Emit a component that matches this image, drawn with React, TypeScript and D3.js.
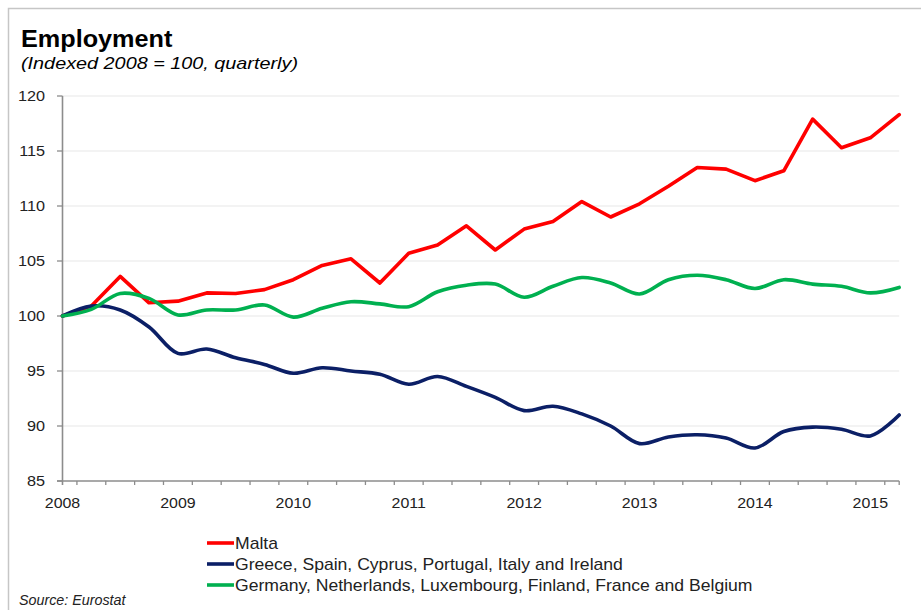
import React from 'react';
import * as d3 from 'd3';

// quarterly values, 2008Q1 .. 2015Q2
const years = ['2008', '2009', '2010', '2011', '2012', '2013', '2014', '2015'];
const yTicks = [85, 90, 95, 100, 105, 110, 115, 120];

const malta = [100, 100.9, 103.6, 101.2, 101.35, 102.1, 102.05, 102.4, 103.3, 104.6,
  105.2, 103.0, 105.7, 106.45, 108.2, 106.0, 107.9, 108.6, 110.4, 109.0,
  110.2, 111.8, 113.5, 113.35, 112.3, 113.2, 117.9, 115.3, 116.2, 118.3];
const periphery = [100, 100.9, 100.55, 99.0, 96.6, 97.0, 96.2, 95.6, 94.8, 95.3,
  95.0, 94.7, 93.8, 94.5, 93.6, 92.6, 91.4, 91.8, 91.1, 90.0,
  88.4, 89.0, 89.2, 88.9, 88.0, 89.5, 89.9, 89.7, 89.1, 91.0];
const core = [100, 100.6, 102.05, 101.6, 100.1, 100.55, 100.55, 101.0, 99.9, 100.7,
  101.3, 101.1, 100.85, 102.2, 102.8, 102.9, 101.7, 102.7, 103.5, 103.0,
  102.0, 103.3, 103.7, 103.3, 102.5, 103.3, 102.9, 102.7, 102.1, 102.6];

const seriesNames = [
  'Malta',
  'Greece, Spain, Cyprus, Portugal, Italy and Ireland',
  'Germany, Netherlands, Luxembourg, Finland, France and Belgium',
];

const W = 921, H = 610;
const font = '"Liberation Sans", Arial, sans-serif';

export default function App() {
  const n = malta.length;
  const x = d3.scaleLinear().domain([0, n - 1]).range([62.5, 899.2]);
  const y = d3.scaleLinear().domain([85, 120]).range([481, 96]);

  const straight = d3.line<number>().x((d, i) => x(i)).y(d => y(d));
  const smooth = d3.line<number>().x((d, i) => x(i)).y(d => y(d)).curve(d3.curveCatmullRom.alpha(0.5));

  const series = [
    { name: seriesNames[0], values: malta, color: '#ff0000', line: straight },
    { name: seriesNames[1], values: periphery, color: '#0b1f66', line: smooth },
    { name: seriesNames[2], values: core, color: '#00b050', line: smooth },
  ];

  const between = d3.range(n - 1).map(i => x(i + 0.5));
  const x0 = x(0), x1 = x(n - 1);
  const axisColor = '#8c8c8c';

  return (
    <svg width={W} height={H} style={{ position: 'absolute', left: 0, top: 0, background: '#fff' }}>
      <rect x={8.5} y={8.5} width={W} height={H} fill="#fff" stroke="#c6c6c6" strokeWidth={1.5} />

      <text transform="translate(21,47) scale(1.03,1)" fontFamily={font} fontWeight="bold" fontSize={24.5} fill="#000">Employment</text>
      <text x={21} y={69} textLength={277} lengthAdjust="spacingAndGlyphs" fontFamily={font} fontStyle="italic" fontSize={16.5} fill="#000">(Indexed 2008 = 100, quarterly)</text>

      {yTicks.map(t => (
        <g key={t}>
          {t > 85 && <line x1={x0} x2={x1} y1={y(t)} y2={y(t)} stroke="#efefef" strokeWidth={1.6} />}
          <line x1={57} x2={x0} y1={y(t)} y2={y(t)} stroke={axisColor} strokeWidth={1.3} />
          <text transform={`translate(45,${y(t) + 5}) scale(1.12,1)`} textAnchor="end" fontFamily={font} fontSize={14.5} fill="#222">{t}</text>
        </g>
      ))}

      <line x1={x0} x2={x0} y1={y(120)} y2={y(85) + 4} stroke={axisColor} strokeWidth={1.6} />
      <line x1={57} x2={x1} y1={y(85)} y2={y(85)} stroke={axisColor} strokeWidth={1.6} />
      {between.concat([x1]).map((bx, i) => (
        <line key={i} x1={bx} x2={bx} y1={y(85)} y2={y(85) + 4} stroke={axisColor} strokeWidth={1.3} />
      ))}
      {years.map((yr, i) => (
        <text key={yr} transform={`translate(${x(i * 4)},${508}) scale(1.1,1)`} textAnchor="middle" fontFamily={font} fontSize={14.5} fill="#222">{yr}</text>
      ))}

      {series.map(s => (
        <path key={s.name} d={s.line(s.values) ?? ''} fill="none" stroke={s.color} strokeWidth={3.6} strokeLinejoin="round" strokeLinecap="round" />
      ))}

      {series.map((s, i) => (
        <g key={s.name} transform={`translate(0,${543 + i * 21})`}>
          <line x1={207} x2={234} y1={0} y2={0} stroke={s.color} strokeWidth={3.6} />
          <text transform="translate(235,5.5) scale(1.1,1)" fontFamily={font} fontSize={16} fill="#222">{s.name}</text>
        </g>
      ))}

      <text x={19} y={605} fontFamily={font} fontStyle="italic" fontSize={14.3} fill="#222">Source: Eurostat</text>
    </svg>
  );
}
